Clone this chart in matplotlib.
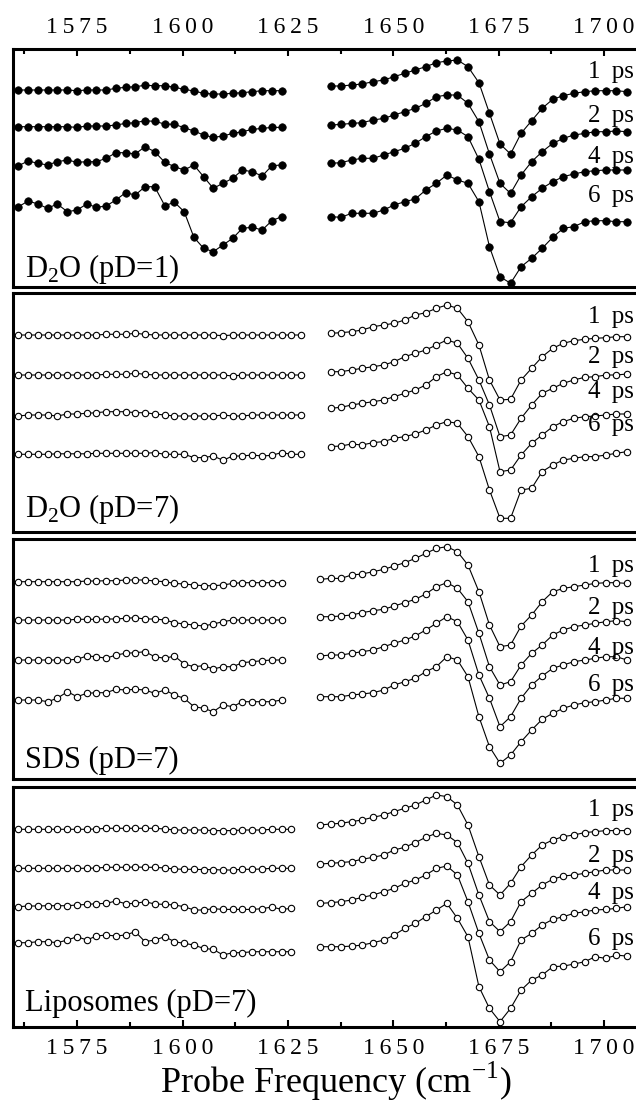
import numpy as np
import matplotlib
matplotlib.use('Agg')
import matplotlib.pyplot as plt
from matplotlib.ticker import FixedLocator, FuncFormatter, NullLocator

plt.rcParams['font.family'] = ['Liberation Serif', 'DejaVu Serif']
plt.rcParams['mathtext.fontset'] = 'custom'
plt.rcParams['mathtext.rm'] = 'Liberation Serif'

# ---------------- data ----------------
left_freq = [1561.1, 1563.4, 1565.7, 1568.0, 1570.3, 1572.7, 1575.0, 1577.3, 1579.6, 1581.9,
             1584.2, 1586.5, 1588.8, 1591.1, 1593.4, 1595.8, 1598.1, 1600.4, 1602.7, 1605.0,
             1607.3, 1609.6, 1611.9, 1614.2, 1616.5, 1618.9, 1621.2, 1623.5, 1625.8, 1628.1]
right_freq = [1632.6, 1635.1, 1637.6, 1640.1, 1642.6, 1645.2, 1647.7, 1650.2, 1652.7, 1655.2,
              1657.7, 1660.2, 1662.7, 1665.2, 1667.7, 1670.3, 1672.8, 1675.3, 1677.8, 1680.3,
              1682.8, 1685.3, 1687.8, 1690.3, 1692.8, 1695.4, 1697.9, 1700.4, 1702.9, 1705.4]

delays = ['1 ps', '2 ps', '4 ps', '6 ps']
samples = ['D$_\\mathregular{2}$O (pD=1)', 'D$_\\mathregular{2}$O (pD=7)', 'SDS (pD=7)', 'Liposomes (pD=7)']

# D2O pD=1 (signals, arbitrary units)
d2o1_left = [
    [0, 0, 0, 0, 0, 0, -0.7, 0, 0, 0, 1.7, 2.7, 3.3, 4.7, 4.3, 4.3, 2.7, 0.7, -1, -3.3, -4, -4, -3.3, -2.7, -1.7, -0.7, -0.7, -0.7],
    [0, 0, 0, 0, 0, 0, -0.7, 0.7, 0.7, 0.7, 1.7, 3.3, 4, 6, 5.3, 2.7, 2.3, -1, -4.3, -8.3, -10.7, -9.3, -6.7, -5, -2.7, -1.7, -0.7, -0.7],
    [-0.7, 4, 1.7, 0, 3.3, 5, 2.7, 3.3, 3.3, 6.7, 12.3, 12.3, 11, 18.3, 13.3, 2.7, -1.7, -5, 0, -11.7, -23.3, -18.3, -13.3, -5, -6.7, -11, -0.7, 0],
    [-1.7, 4, 1, -3.3, 1, -6.7, -5, 1, -2.3, -1, 5, 12.3, 10, 18.3, 18.3, -0.7, 2.7, -6.7, -32.3, -43.3, -46.7, -40, -33.3, -23.3, -22.3, -25, -15.7, -11.7],
]
d2o1_right = [
    [4, 4, 5, 6, 8.3, 10, 13.3, 16.7, 20, 23.3, 27.3, 29, 30, 23.3, 7.3, -23.3, -54, -64, -43.3, -30.7, -18.3, -9.3, -5.7, -3.3, -1.7, -0.7, -0.7, -0.7, -1.7],
    [1.7, 2.3, 3.3, 4, 6.7, 8.3, 11.7, 15, 18.3, 23.3, 30, 31.7, 31.7, 23.3, 5, -27.3, -56.7, -66.7, -48.3, -35, -25, -16.7, -11.7, -8.3, -6.7, -5, -5, -4.3, -5],
    [1.7, 2.3, 5, 6.7, 6.7, 10, 13.3, 16.7, 21.7, 28.3, 34, 36.7, 35, 28.3, 5.7, -26.7, -56.7, -57.7, -41.7, -31.7, -23.3, -16.7, -11.7, -9, -6.7, -5.7, -5, -5, -5],
    [-11.7, -12.3, -8.3, -8.3, -8.3, -5, 0, 3.3, 6, 15, 21.7, 30, 25, 21.7, 3.3, -41.7, -71.7, -78.3, -61.7, -53.3, -43.3, -32.3, -23.3, -21.7, -16.7, -15.7, -15.7, -16.7, -16.7],
]

# D2O pD=7
d2o7_left = [
    [0, 0, 0, 0, 0, 0, 0, 0, 0, 0.7, 0.7, 0.7, 1.7, 0.7, 0, 0, 0, 0, 0, 0, 0, -0.7, 0, 0, 0, 0, 0, 0, 0, 0],
    [0, 0, 0, 0, 0, 0, 0, 0, 0, 0.7, 0.7, 0.7, 1.7, 0.7, 0, 0, 0, 0, 0, 0, 0, 0, -1, 0, 0, 0, 0, 0, 0, 0],
    [-1, 0, 0, 0, -1, 1, 1, 1.7, 2.3, 3.3, 3.3, 3.3, 2.3, 2.3, 1, 0, -1, -1, -1, -1, -1, 0, -1, -1, 0, 0, 0, 0, 0, 0],
    [0, 0, 0, 0, 0.5, 0.5, 0.5, 0.5, 1, 1, 1, 1, 1, 1, 1.7, 0, 0, 0, -3.3, -3.3, -1.7, -6, -1.7, -1.7, -0.7, -1.7, -1, 1.7, 0, 0],
]
d2o7_right = [
    [1.7, 2.3, 3.3, 5, 8.3, 10, 11.7, 15, 20, 22.3, 26.7, 30, 26.7, 13.3, -10, -45, -65, -64.3, -45, -33.3, -21.7, -13.3, -8.3, -5.7, -4.3, -3.3, -2.7, -1.7, -1.7],
    [3.3, 3.3, 5, 6.7, 8.3, 10, 13.3, 18.3, 21.7, 25, 30, 35, 31.7, 16.7, -5, -30, -61.7, -60, -43.3, -30, -18.3, -13.3, -8.3, -5, -2.3, -1.7, 0, 0, 1],
    [6.7, 7.7, 10, 11.7, 13.3, 15, 18.3, 21.7, 25, 30, 38.3, 43.3, 40, 26.7, 15, -11.7, -56.7, -55, -40, -28.3, -20, -11.7, -6.7, -3.3, -1.7, -1, 0, 1, 1],
    [7.7, 8.3, 10.3, 9.3, 11.7, 12.7, 16, 17.7, 20.3, 24.3, 29.3, 32.7, 31, 17.7, -2.3, -35.7, -64, -64, -35.7, -34, -17.3, -10.7, -5.7, -4, -2.3, -2.3, -0.7, 1, 2.7],
]

# SDS pD=7
sds_left = [
    [0, 0, 0, 0, 0, 0, 0, 0.7, 0.7, 1, 1, 1.7, 1.7, 1.7, 0.7, 0, -1.7, -2.3, -3.3, -4, -4, -3.3, -1.7, -1, -1, -1, -1, -1],
    [0, 0, 0, 0, 0, 0, 0.7, 0.7, 0.7, 1, 1, 1.7, 2.3, 1, 1, 0, -2.7, -4, -5, -6, -4, -1.7, 0, 0, 0, 0, 0, 0],
    [0, 0, 0, 0, 0, 0, 0.7, 4, 3.3, 1.7, 5, 6.7, 7.3, 8.3, 3.3, 1.7, 4, -4, -6.7, -5.7, -9, -6.7, -6.7, -2.7, -1.7, -0.7, 0, 0],
    [0, 0, 0, -1.7, 1.7, 8.3, 3.3, 6.7, 7.3, 7.3, 10.7, 10, 10.7, 10, 6.7, 10, 5, 1.7, -6.7, -8.3, -11.7, -5, -6.7, -1.7, -1.7, -1.7, -1.7, 0],
]
sds_right = [
    [2.3, 3.3, 3.3, 6.7, 7.7, 10, 12.3, 15.7, 19, 23.3, 28.3, 33.3, 35, 30, 16.7, -10, -43.3, -65, -63.3, -44.3, -33.3, -20, -10, -6.7, -5, -3.3, -1.7, -1, -1, -1.7],
    [3.3, 3.3, 4, 5, 7.3, 9.3, 10.7, 14, 17.3, 20.7, 26, 33.3, 37.3, 31.7, 18.3, -13.3, -46.7, -65, -61.7, -45, -33.3, -25, -15, -10, -6.7, -5, -3.3, -1.7, -0.7, -1.7],
    [4, 5, 5, 6.7, 8.3, 10, 13.3, 16.7, 20, 24, 30, 36.7, 43.3, 38.3, 20, -15, -38.3, -66.7, -56.7, -38.3, -25, -16, -8.3, -5, -1.7, 0, 1.7, 3.3, 3.3, 0],
    [3.3, 3.3, 3.3, 5, 6, 7.3, 10, 15, 18.3, 21.7, 28.3, 33.3, 43.3, 40, 23.3, -16.7, -46.7, -63.3, -55, -41.7, -30, -19.3, -13.3, -8.3, -5, -2.7, -1.7, 0, 1.7, 1.7],
]

# Liposomes pD=7
lipo_left = [
    [0, 0, 0, 0, 0, 0, 0, 0, 0.3, 1, 1, 1, 1, 1, 1, 0.3, -0.7, -0.7, -0.7, -0.7, -1.3, -1.3, -1.3, -0.7, -0.7, -0.7, 0, 0, 0],
    [0, 0, 0, 0, 0, 0, 0, 0, 0.3, 1, 1, 1, 1.3, 1, 1, 0.3, -0.7, -1, -1, -1.3, -1.3, -1.7, -1.7, -1, -1, -0.7, 0, 0, 0],
    [0, 0.7, 0.7, 1, 1, 1, 1.7, 2.3, 3, 3.3, 5.7, 3, 3.3, 5, 2.7, 2.3, 1.7, 0, -3.3, -3.3, -2, -2.7, -2.7, -2.7, -2.7, -2, -0.3, -2.7, -1.7],
    [0, 0, 1, 1, 0, 2.7, 6, 2.7, 6.7, 7.7, 6.7, 7.7, 11, 1, 2.7, 6, 1, -0.7, -2.3, -5.7, -6.7, -12.3, -10, -10, -9, -9, -9, -9, -9],
]
lipo_right = [
    [4.3, 5.3, 6, 7.7, 9.3, 12, 14.3, 17.7, 21, 24.3, 29.3, 34.3, 32.7, 24.3, 4.3, -27.3, -55.7, -65.7, -54, -37.3, -25.7, -15.7, -10.7, -7.3, -5.7, -3.3, -2.3, -1.3, -1.3, -1.3],
    [4.3, 5, 5.7, 6.7, 9, 11, 13.3, 18.3, 21, 25.7, 31, 35, 33.3, 25.7, 5, -26.7, -53.3, -63.3, -53.3, -33.3, -25, -16.7, -11, -7.7, -6.7, -5, -3.3, -1.7, -1.7, -1.7],
    [3.3, 4, 5, 6.7, 9.3, 11.7, 15, 18.3, 23.3, 26.7, 31.7, 38.3, 40.7, 31.7, 5, -26.7, -53.3, -65, -55, -33.3, -26.7, -18.3, -12.7, -10, -6.7, -5, -3.3, -2.7, -1.7, 0],
    [-4, -4, -4, -3.4, -2.4, 0, 2.6, 7.6, 14.3, 19.3, 26, 32.6, 39.3, 24.3, 6, -44, -65.7, -79, -65.7, -47.4, -37.4, -32.4, -24, -23.4, -21.4, -19, -14, -15.7, -12.4, -13.4],
]

panels_left = [d2o1_left, d2o7_left, sds_left, lipo_left]
panels_right = [d2o1_right, d2o7_right, sds_right, lipo_right]

# ---------------- layout ----------------
W, H = 636, 1111
fig = plt.figure(figsize=(W / 100, H / 100), dpi=100)

panel_tops = [49, 293, 539, 787]
panel_heights = [238, 239, 240, 240]
ax_left_px, ax_right_px = 13, 640
trace_offsets = [[41, 77.7, 116, 156], [42, 82, 122, 161.3],
                 [42.7, 81, 121, 161], [42.3, 81.3, 119.7, 155.7]]
label_y = [[23, 67, 108, 147], [24, 64, 99, 132], [27, 69, 109, 146], [23, 69, 106, 152]]
sample_base = [10, 15, 11, 16]

xmin = 1559.8
xmax = 1708.5

major = [1575, 1600, 1625, 1650, 1675, 1700]
minor = [1562.5, 1587.5, 1612.5, 1637.5, 1662.5, 1687.5]
fmt = FuncFormatter(lambda v, p: '\u2009'.join(str(int(round(v)))))

for k in range(4):
    top = panel_tops[k]
    h = panel_heights[k]
    ax = fig.add_axes([ax_left_px / W, 1 - (top + h) / H,
                       (ax_right_px - ax_left_px) / W, h / H])
    ax.set_xlim(xmin, xmax)
    ax.set_ylim(-h, 0)
    ax.set_yticks([])
    for s in ax.spines.values():
        s.set_linewidth(2.2)
    filled = (k == 0)
    for t in range(4):
        segs = [(left_freq[:len(panels_left[k][t])], panels_left[k][t]),
                (right_freq[len(right_freq) - len(panels_right[k][t]):], panels_right[k][t])]
        for xs, ys in segs:
            yy = [-trace_offsets[k][t] + v for v in ys]
            if filled:
                ax.plot(xs, yy, '-o', color='black', lw=0.8, ms=5.4,
                        mfc='black', mec='black', mew=0.5)
            else:
                ax.plot(xs, yy, '-o', color='black', lw=0.8, ms=4.6,
                        mfc='white', mec='black', mew=0.8)
        ax.text((634 - ax_left_px) / (ax_right_px - ax_left_px), 1 - label_y[k][t] / h,
                delays[t].replace(' ', '\u2009 '), transform=ax.transAxes,
                ha='right', va='center', fontsize=18)
    ax.text((25 - ax_left_px) / (ax_right_px - ax_left_px), sample_base[k] / h,
            samples[k], transform=ax.transAxes, ha='left', va='baseline', fontsize=22)

    ax.xaxis.set_major_locator(FixedLocator(major))
    ax.xaxis.set_minor_locator(FixedLocator(minor))
    ax.xaxis.set_major_formatter(fmt)
    if k == 0:
        ax.tick_params(axis='x', which='both', direction='in', top=True, bottom=False,
                       labeltop=True, labelbottom=False, width=1.5)
    elif k == 3:
        ax.tick_params(axis='x', which='both', direction='in', top=False, bottom=True,
                       labeltop=False, labelbottom=True, width=1.5)
    else:
        ax.tick_params(axis='x', which='both', top=False, bottom=False,
                       labeltop=False, labelbottom=False)
    ax.tick_params(axis='x', which='major', length=5, pad=8, labelsize=17)
    ax.tick_params(axis='x', which='minor', length=3.5)

fig.text(336 / W, 1 - 1081 / H, 'Probe Frequency (cm$^{\\mathregular{-1}}$)',
         ha='center', va='center', fontsize=26)

fig.savefig('out.png', dpi=100)
